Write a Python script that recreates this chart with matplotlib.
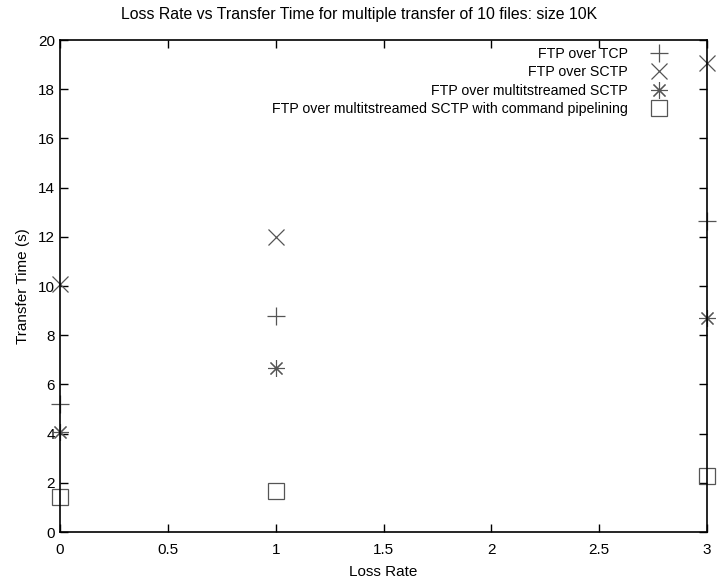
import matplotlib
matplotlib.use("Agg")
import matplotlib.pyplot as plt

plt.rcParams['font.family'] = ['Liberation Sans', 'DejaVu Sans']

loss = [0, 1, 3]
tcp = [5.2, 8.78, 12.64]
sctp = [10.1, 12.0, 19.05]
multi = [4.05, 6.65, 8.71]
pipe = [1.42, 1.67, 2.28]
labels = ["FTP over TCP", "FTP over SCTP", "FTP over multitstreamed SCTP",
          "FTP over multitstreamed SCTP with command pipelining"]

fig = plt.figure(figsize=(7.18, 5.82), dpi=100)
ax = fig.add_axes([60/718, 50/582, 647/718, 492/582])

c = '#555555'
ax.plot(loss, tcp, ls='none', marker='+', ms=13, mew=0.9, color=c, clip_on=False, label=labels[0])
ax.plot(loss, sctp, ls='none', marker='x', ms=11, mew=0.9, color=c, clip_on=False, label=labels[1])
ax.plot(loss, multi, ls='none', marker=(8, 2, 0), ms=12, mew=0.8, color=c, clip_on=False, label=labels[2])
ax.plot(loss, pipe, ls='none', marker='s', ms=11, mew=0.9, mfc='none', mec=c, clip_on=False, label=labels[3])

ax.set_xlim(0, 3)
ax.set_ylim(0, 20)
ax.set_xticks([0, 0.5, 1, 1.5, 2, 2.5, 3])
ax.set_xticklabels(['0', '0.5', '1', '1.5', '2', '2.5', '3'])
ax.set_yticks(range(0, 21, 2))
ax.tick_params(direction='in', top=True, right=True, length=6, width=1, labelsize=11)
ax.tick_params(axis='x', pad=8)
for s in ax.spines.values():
    s.set_linewidth(1.2)

ax.set_xlabel("Loss Rate", fontsize=11, labelpad=6)
ax.set_ylabel("Transfer Time (s)", fontsize=11, labelpad=6)
fig.text(0.5, 1 - 14/582, "Loss Rate vs Transfer Time for multiple transfer of 10 files: size 10K",
         fontsize=11.4, ha='center', va='center')

ax.legend(loc='upper right', frameon=False, markerfirst=False, fontsize=10.2,
          handletextpad=1.2, labelspacing=0.3, borderaxespad=0.0, bbox_to_anchor=(0.957, 0.997))

fig.savefig("out.png", dpi=100)
